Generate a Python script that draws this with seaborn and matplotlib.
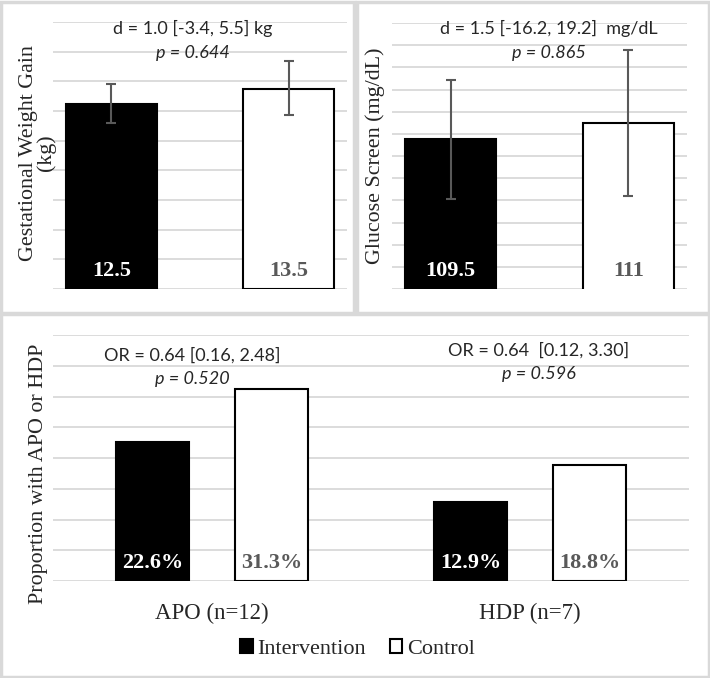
import numpy as np
import pandas as pd
import seaborn as sns
import matplotlib.pyplot as plt
from matplotlib.patches import Rectangle

# ---------------------------------------------------------------------------
# data
# ---------------------------------------------------------------------------

groups = ['Intervention', 'Control']

gwg_mean = [12.5, 13.5]
gwg_lo = [11.2, 11.7]
gwg_hi = [13.85, 15.35]
gwg_labels = ['12.5', '13.5']

glu_mean = [109.5, 111.0]
glu_lo = [104.1, 104.4]
glu_hi = [114.85, 117.6]
glu_labels = ['109.5', '111']

outcomes = ['APO (n=12)', 'HDP (n=7)']
prop_intervention = [22.6, 12.9]
prop_control = [31.3, 18.8]

gwg_note = ['d = 1.0 [-3.4, 5.5] kg', 'p = 0.644']
glu_note = ['d = 1.5 [-16.2, 19.2]  mg/dL', 'p = 0.865']
or_notes = [['OR = 0.64 [0.16, 2.48]', 'p = 0.520'],
            ['OR = 0.64  [0.12, 3.30]', 'p = 0.596']]

# ---------------------------------------------------------------------------
# style
# ---------------------------------------------------------------------------

sns.set_style('white')
plt.rcParams['font.family'] = ['Liberation Serif', 'DejaVu Serif']

kGrid = '#d9d9d9'
kDark = '#595959'
kSerif = 15.8
kNote = 13
colors = {'Intervention': 'black', 'Control': 'white'}

W, H = 710, 678
fig = plt.figure(figsize=(W / 100, H / 100), dpi=100)

def px_axes(x0, y0, x1, y1):
    return fig.add_axes([x0 / W, 1 - y1 / H, (x1 - x0) / W, (y1 - y0) / H])

def style_axes(ax, lo, hi, step):
    ax.set_ylim(lo, hi)
    ax.set_yticks(np.arange(lo, hi + step / 2, step))
    ax.yaxis.grid(True, color=kGrid, linewidth=1.3)
    ax.set_axisbelow(True)
    ax.tick_params(left=False, labelleft=False, bottom=False)
    for s in ax.spines.values():
        s.set_visible(False)
    ax.set_xlabel('')
    ax.set_ylabel('')

def bottom_label(ax, x, text, color):
    ax.annotate(text, xy=(x, 0), xycoords=('data', 'axes fraction'),
                xytext=(0, 13), textcoords='offset points',
                ha='center', va='center', color=color,
                fontsize=16, fontweight='bold')

def simple_panel(ax, means, lo, hi, labels, ylim, step):
    df = pd.DataFrame({'group': groups, 'value': means})
    sns.barplot(data=df, x='group', y='value', hue='group', palette=colors,
                edgecolor='black', linewidth=1.5, width=0.51, legend=False, ax=ax)
    m = np.array(means)
    ax.errorbar([0, 1], m, yerr=[m - np.array(lo), np.array(hi) - m],
                fmt='none', ecolor=kDark, elinewidth=1.5, capsize=3.5, capthick=1.5)
    style_axes(ax, ylim[0], ylim[1], step)
    ax.tick_params(labelbottom=False)
    for i, t in enumerate(labels):
        bottom_label(ax, i, t, 'white' if i == 0 else kDark)

# ---------------------------------------------------------------------------
# top left: gestational weight gain
# ---------------------------------------------------------------------------

ax1 = px_axes(53, 22, 347, 289)
simple_panel(ax1, gwg_mean, gwg_lo, gwg_hi, gwg_labels, (0, 18), 2)
fig.text(37.5 / W, 1 - 153 / H, 'Gestational Weight Gain\n(kg)', rotation=90,
         ha='center', va='center', fontsize=kSerif, linespacing=0.9)
fig.text(193 / W, 1 - 28 / H, gwg_note[0], ha='center', va='center',
         family='Lato', fontsize=kNote)
fig.text(193 / W, 1 - 53 / H, gwg_note[1], ha='center', va='center',
         family='Lato', fontsize=kNote, style='italic')

# ---------------------------------------------------------------------------
# top right: glucose screen
# ---------------------------------------------------------------------------

ax2 = px_axes(392, 23, 687, 289)
simple_panel(ax2, glu_mean, glu_lo, glu_hi, glu_labels, (96, 120), 2)
fig.text(375 / W, 1 - 156 / H, 'Glucose Screen (mg/dL)', rotation=90,
         ha='center', va='center', fontsize=kSerif)
fig.text(549 / W, 1 - 28 / H, glu_note[0], ha='center', va='center',
         family='Lato', fontsize=kNote)
fig.text(549 / W, 1 - 53 / H, glu_note[1], ha='center', va='center',
         family='Lato', fontsize=kNote, style='italic')

# ---------------------------------------------------------------------------
# bottom: proportion with APO or HDP
# ---------------------------------------------------------------------------

ax3 = px_axes(53, 335, 689, 581)
long = pd.DataFrame({
    'outcome': outcomes * 2,
    'group': ['Intervention'] * len(outcomes) + ['Control'] * len(outcomes),
    'value': prop_intervention + prop_control,
})
sns.barplot(data=long, x='outcome', y='value', hue='group', hue_order=groups,
            palette=colors, edgecolor='black', linewidth=1.5,
            width=0.75, gap=0.39, ax=ax3)
style_axes(ax3, 0, 40, 5)
ax3.tick_params(labelbottom=True, labelsize=16.5, pad=12)

for cont, g in zip(ax3.containers, groups):
    for bar in cont:
        v = bar.get_height()
        bottom_label(ax3, bar.get_x() + bar.get_width() / 2, f'{v:.1f}%',
                     'white' if g == 'Intervention' else kDark)

for (x, y0), (l1, l2) in zip([(192, 355), (539, 350)], or_notes):
    fig.text(x / W, 1 - y0 / H, l1, ha='center', va='center',
             family='Lato', fontsize=kNote)
    fig.text(x / W, 1 - (y0 + 24) / H, l2, ha='center', va='center',
             family='Lato', fontsize=kNote, style='italic')

fig.text(38.6 / W, 1 - 474 / H, 'Proportion with APO or HDP', rotation=90,
         ha='center', va='center', fontsize=kSerif)

handles, labels = ax3.get_legend_handles_labels()
ax3.legend_.remove()
fig.legend(handles, labels, loc='center', bbox_to_anchor=(357.5 / W, 1 - 649 / H),
           ncol=2, frameon=False, fontsize=16, handlelength=0.55,
           handleheight=0.55, handletextpad=0.2, columnspacing=1.1)

# panel borders
for x0, y0, x1, y1 in [(1.5, 1.5, 354, 313), (357, 1.5, 708.5, 313),
                       (1.5, 314, 708.5, 676.5)]:
    fig.patches.append(Rectangle((x0 / W, 1 - y1 / H), (x1 - x0) / W, (y1 - y0) / H,
                                 transform=fig.transFigure, fill=False,
                                 edgecolor=kGrid, linewidth=2.5))

fig.savefig('out.png', dpi=100)
